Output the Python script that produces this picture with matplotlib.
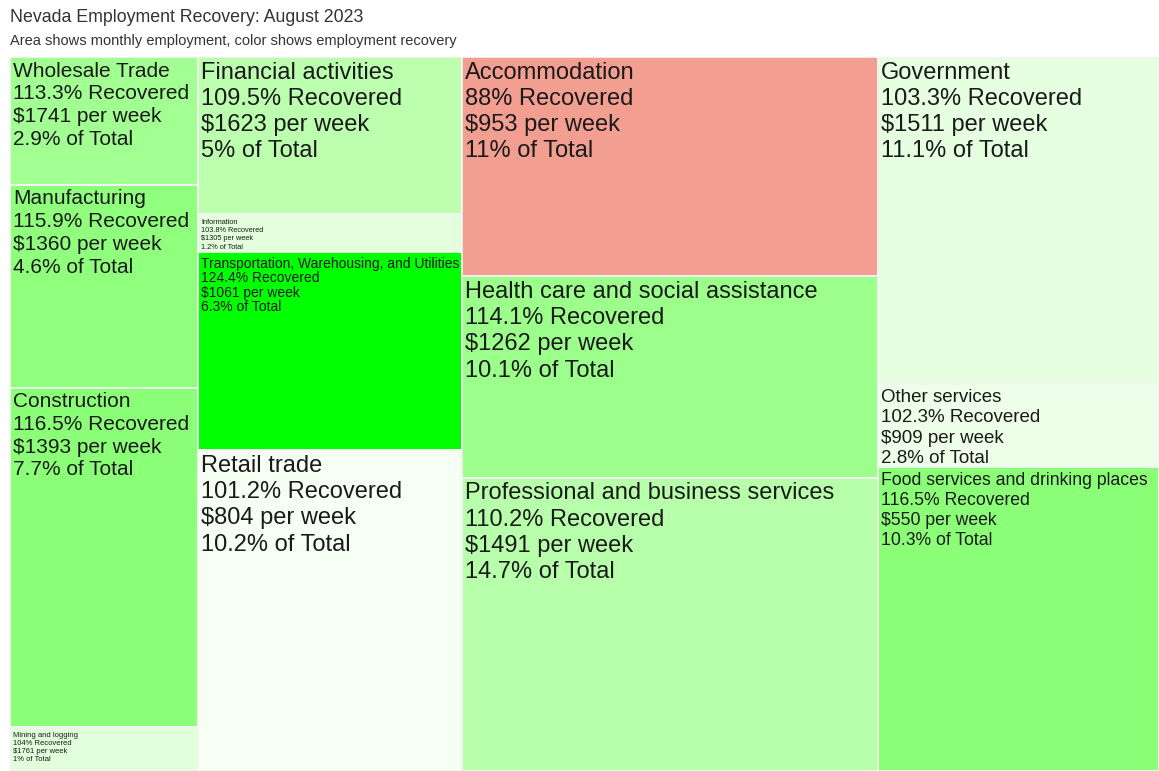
import numpy as np
import matplotlib
matplotlib.use('Agg')
import matplotlib.pyplot as plt
from matplotlib.patches import Rectangle

plt.rcParams['font.family'] = ['Liberation Sans', 'DejaVu Sans']

# Treemap data, grouped into the four columns of the layout
columns = [
    ['Wholesale Trade', 'Manufacturing', 'Construction', 'Mining and logging'],
    ['Financial activities', 'Information',
     'Transportation, Warehousing, and Utilities', 'Retail trade'],
    ['Accommodation', 'Health care and social assistance',
     'Professional and business services'],
    ['Government', 'Other services', 'Food services and drinking places'],
]
recovery = {
    'Wholesale Trade': 113.3, 'Manufacturing': 115.9, 'Construction': 116.5,
    'Mining and logging': 104, 'Financial activities': 109.5,
    'Information': 103.8, 'Transportation, Warehousing, and Utilities': 124.4,
    'Retail trade': 101.2, 'Accommodation': 88,
    'Health care and social assistance': 114.1,
    'Professional and business services': 110.2, 'Government': 103.3,
    'Other services': 102.3, 'Food services and drinking places': 116.5,
}
weekly_pay = {
    'Wholesale Trade': 1741, 'Manufacturing': 1360, 'Construction': 1393,
    'Mining and logging': 1761, 'Financial activities': 1623,
    'Information': 1305, 'Transportation, Warehousing, and Utilities': 1061,
    'Retail trade': 804, 'Accommodation': 953,
    'Health care and social assistance': 1262,
    'Professional and business services': 1491, 'Government': 1511,
    'Other services': 909, 'Food services and drinking places': 550,
}
share = {
    'Wholesale Trade': 2.9, 'Manufacturing': 4.6, 'Construction': 7.7,
    'Mining and logging': 1, 'Financial activities': 5,
    'Information': 1.2, 'Transportation, Warehousing, and Utilities': 6.3,
    'Retail trade': 10.2, 'Accommodation': 11,
    'Health care and social assistance': 10.1,
    'Professional and business services': 14.7, 'Government': 11.1,
    'Other services': 2.8, 'Food services and drinking places': 10.3,
}

# label sizes (pt) per cell, and line spacing
font_size = {
    'Wholesale Trade': 15, 'Manufacturing': 15, 'Construction': 15,
    'Mining and logging': 5.5, 'Financial activities': 17,
    'Information': 5.3, 'Transportation, Warehousing, and Utilities': 10,
    'Retail trade': 17, 'Accommodation': 17,
    'Health care and social assistance': 17,
    'Professional and business services': 17, 'Government': 17,
    'Other services': 13.5, 'Food services and drinking places': 12.7,
}
line_gap = {'Transportation, Warehousing, and Utilities': 1.05}

# colour scale: red below 100% recovery, white around 100%, green above
scale_vals = [88, 100, 103.3, 116.5, 124.4]
scale_rgb = np.array([[242, 158, 144], [255, 255, 255], [230, 255, 224],
                      [140, 255, 120], [0, 255, 0]]) / 255.0


def recovery_color(v):
    return tuple(np.interp(v, scale_vals, scale_rgb[:, i]) for i in range(3))


fig = plt.figure(figsize=(11.59, 7.71), dpi=100)
fig.text(10 / 1159, 1 - 18 / 771, 'Nevada Employment Recovery: August 2023',
         fontsize=12.8, color='#333333', va='center', ha='left')
fig.text(10 / 1159, 1 - 41 / 771,
         'Area shows monthly employment, color shows employment recovery',
         fontsize=10.5, color='#333333', va='center', ha='left')

ax = fig.add_axes([10 / 1159, 0, 1149 / 1159, 714 / 771])
ax.set_xlim(0, 1)
ax.set_ylim(1, 0)
ax.axis('off')

total = sum(share[n] for col in columns for n in col)
x0 = 0
for col in columns:
    col_sum = sum(share[n] for n in col)
    w = col_sum / total
    y0 = 0
    for name in col:
        h = share[name] / col_sum
        ax.add_patch(Rectangle((x0, y0), w, h, facecolor=recovery_color(recovery[name]),
                               edgecolor='#f4f4f4', linewidth=1.2))
        fs = font_size[name]
        label = '%s\n%s%% Recovered\n$%d per week\n%s%% of Total' % (
            name, ('%g' % recovery[name]), weekly_pay[name], ('%g' % share[name]))
        ax.annotate(label.replace('$', r'\$'), xy=(x0, y0), xytext=(2, -3.3),
                    textcoords='offset points', ha='left', va='top',
                    fontsize=fs, color='#1a1a1a',
                    linespacing=line_gap.get(name, 1.25))
        y0 += h
    x0 += w

fig.savefig('out.png', dpi=100)
